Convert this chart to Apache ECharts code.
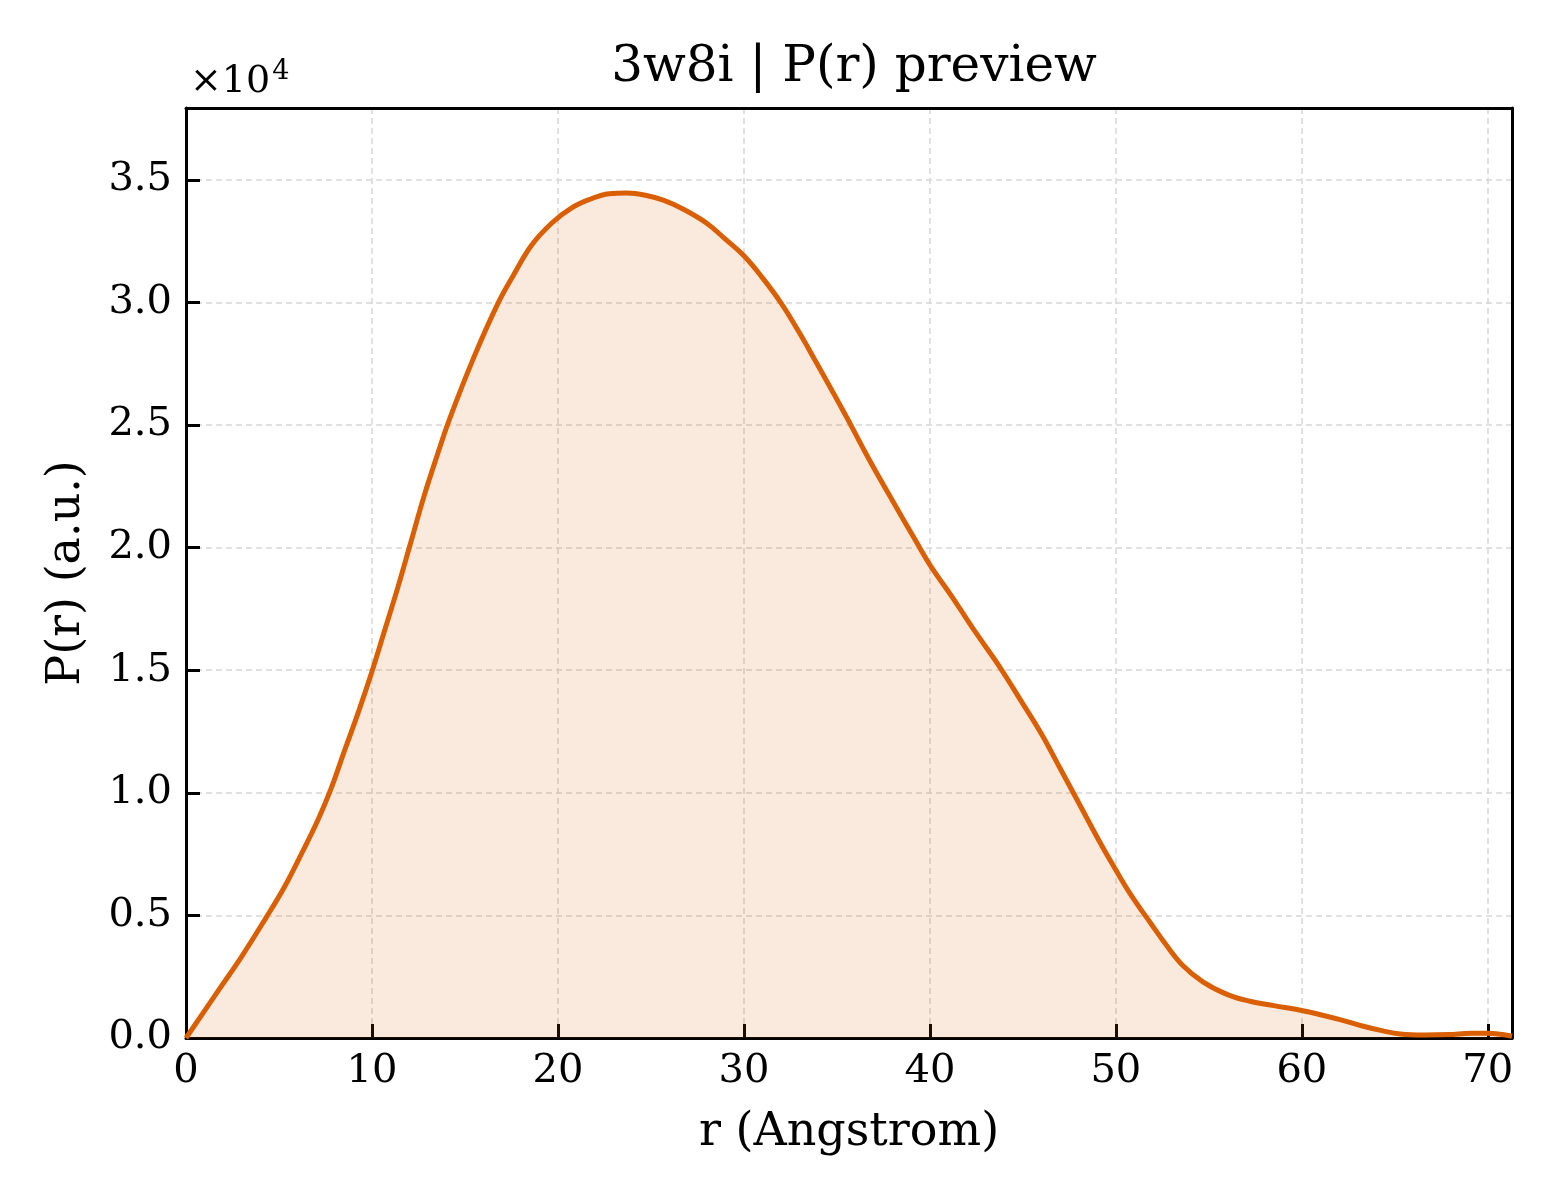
<!DOCTYPE html>
<html>
<head>
<meta charset="utf-8">
<title>3w8i | P(r) preview</title>
<script src="https://cdn.jsdelivr.net/npm/echarts@6/dist/echarts.min.js"></script>
<style>
  html, body { margin: 0; padding: 0; background: #fff; }
  #chart { width: 1560px; height: 1200px; }
</style>
</head>
<body>
<div id="chart"></div>
<script>
// DATA
var rValues = [0, 1.8, 3.0, 4.3, 5.3, 6.2, 7.1, 7.8, 8.5, 9.25, 10.0, 10.7, 11.4, 12.1, 12.8, 13.5, 14.2,
	15.5, 16.8, 17.6, 18.6, 19.7, 20.7, 21.7, 22.75, 23.7, 24.7, 25.7, 26.8, 28.0, 29.0, 30.0,
	31.0, 32.0, 33.0, 33.9, 34.8, 35.7, 36.8, 38.0, 39.3, 40.0, 41.3, 42.5, 43.8, 44.9, 46.0,
	47.0, 48.1, 49.2, 50.0, 50.8, 51.9, 52.7, 53.6, 54.7, 56.0, 57.2, 58.5, 60.0, 61.0, 62.1,
	63.2, 64.3, 65.3, 66.6, 67.9, 69.1, 70.0, 70.8, 71.3];
var prValues = [0, 2000, 3330, 4900, 6170, 7500, 8900, 10170, 11670, 13250, 14950, 16670, 18400,
	20250, 22100, 23750, 25300, 27800, 30000, 31100, 32350, 33260, 33840, 34200, 34430, 34460,
	34370, 34160, 33780, 33230, 32580, 31900, 31000, 29970, 28740, 27540, 26320, 25070, 23500,
	21900, 20200, 19300, 17870, 16500, 15080, 13750, 12400, 11000, 9450, 7900, 6850, 5850, 4650,
	3800, 2960, 2280, 1770, 1500, 1320, 1120, 950, 740, 500, 300, 160, 120, 140, 190, 190, 140, 70];
var xTicks = [0, 10, 20, 30, 40, 50, 60, 70];
var yTicks = [0, 5000, 10000, 15000, 20000, 25000, 30000, 35000];

var SCALE = 10000;
var X_MAX = 71.3;
var Y_MAX = 37930;
var FONT = 'DejaVu Serif';

function buildSeries(r, p) {
	var out = [];
	for (var i = 0; i < r.length; i++) {
		out.push([r[i], p[i]]);
	}
	return out;
}

// axis used only to close the box (top / right spines)
function frameAxis(position, min, max) {
	return {
		type: 'value',
		position: position,
		min: min,
		max: max,
		axisLine: { show: true, onZero: false, lineStyle: { color: '#000', width: 3 } },
		axisTick: { show: false },
		axisLabel: { show: false },
		splitLine: { show: false }
	};
}

function prOptions() {
	var gridLine = { show: true, lineStyle: { color: '#d6d6d6', width: 1.5, type: [6, 4] } };
	return {
		animation: false,
		backgroundColor: '#ffffff',
		title: {
			text: '3w8i | P(r) preview',
			left: 849,
			top: 38,
			textAlign: 'center',
			textStyle: { fontFamily: FONT, fontWeight: 'normal', fontSize: 50, color: '#000' }
		},
		graphic: [{
			type: 'text',
			left: 190,
			top: 58,
			style: {
				text: '{a|×10}{b|4}',
				fontFamily: FONT,
				fill: '#000',
				rich: {
					a: { fontFamily: FONT, fontSize: 38, fill: '#000', verticalAlign: 'bottom' },
					b: { fontFamily: FONT, fontSize: 27, fill: '#000', verticalAlign: 'top', padding: [0, 0, 16, 2] }
				}
			}
		}],
		grid: { left: 186, right: 48, top: 108, bottom: 162 },
		xAxis: [{
			type: 'value',
			min: 0,
			max: X_MAX,
			interval: 10,
			name: 'r (Angstrom)',
			nameLocation: 'middle',
			nameGap: 72,
			nameTextStyle: { fontFamily: FONT, fontSize: 46, color: '#000' },
			axisLine: { show: true, onZero: false, lineStyle: { color: '#000', width: 3 } },
			axisTick: { show: true, inside: true, length: 14, lineStyle: { color: '#000', width: 3 } },
			axisLabel: {
				fontFamily: FONT, fontSize: 40, color: '#000', margin: 14,
				showMaxLabel: false,
				formatter: function (v) { return xTicks.indexOf(v) >= 0 ? String(v) : ''; }
			},
			splitLine: gridLine
		}, frameAxis('top', 0, X_MAX)],
		yAxis: [{
			type: 'value',
			min: 0,
			max: Y_MAX,
			interval: 5000,
			name: 'P(r) (a.u.)',
			nameLocation: 'middle',
			nameGap: 96,
			nameRotate: 90,
			nameTextStyle: { fontFamily: FONT, fontSize: 46, color: '#000' },
			axisLine: { show: true, lineStyle: { color: '#000', width: 3 } },
			axisTick: { show: true, inside: true, length: 14, lineStyle: { color: '#000', width: 3 } },
			axisLabel: {
				fontFamily: FONT, fontSize: 40, color: '#000', margin: 14,
				showMaxLabel: false,
				formatter: function (v) { return yTicks.indexOf(v) >= 0 ? (v / SCALE).toFixed(1) : ''; }
			},
			splitLine: gridLine
		}, frameAxis('right', 0, Y_MAX)],
		series: [{
			type: 'line',
			xAxisIndex: 0,
			yAxisIndex: 0,
			data: buildSeries(rValues, prValues),
			smooth: 0.4,
			symbol: 'none',
			clip: true,
			lineStyle: { color: '#d95f02', width: 5 },
			areaStyle: { color: '#d95f02', opacity: 0.13 }
		}]
	};
}

var myChart = echarts.init(document.getElementById('chart'));
myChart.setOption(prOptions());
</script>
</body>
</html>
